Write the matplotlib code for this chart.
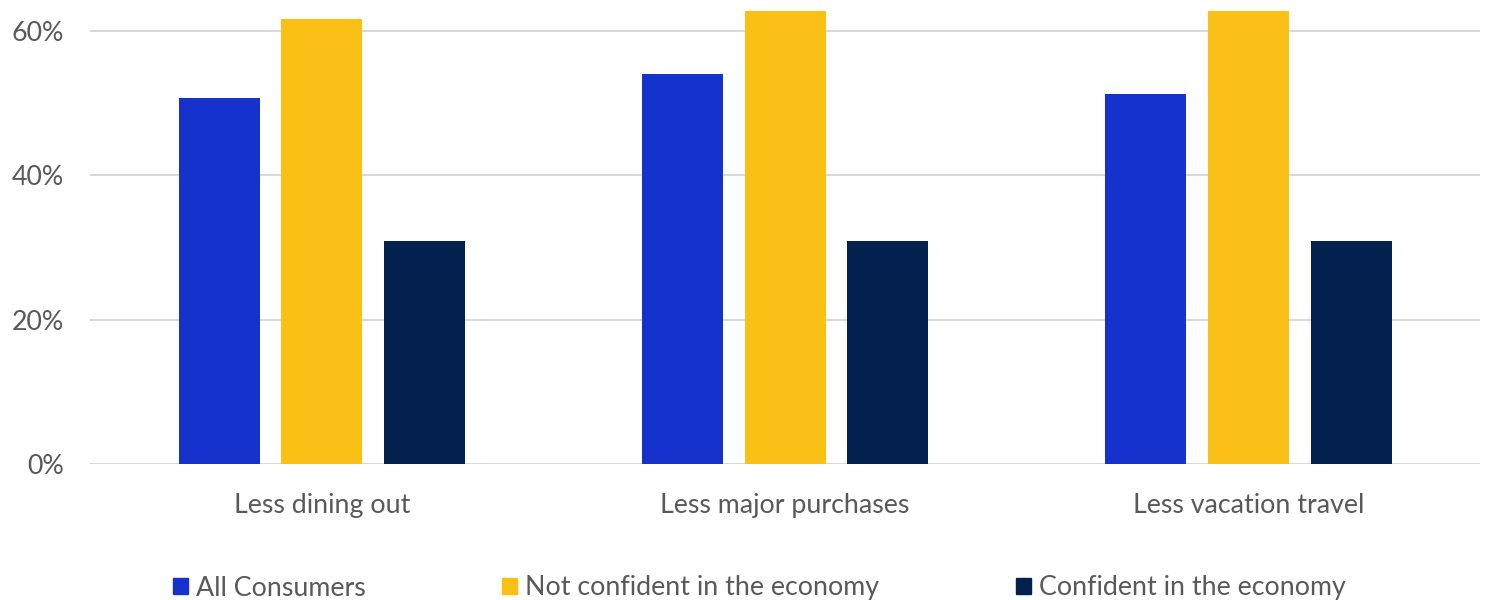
import numpy as np
import matplotlib.pyplot as plt
from matplotlib.patches import Patch

plt.rcParams['font.family'] = ['Lato', 'DejaVu Sans']

categories = ['Less dining out', 'Less major purchases', 'Less vacation travel']
series_names = ['All Consumers', 'Not confident in the economy', 'Confident in the economy']
all_consumers = [50.7, 54.0, 51.3]
not_confident = [61.7, 62.8, 62.8]
confident = [30.9, 30.9, 30.9]
yticks = [0, 20, 40, 60]
ytick_labels = ['0%', '20%', '40%', '60%']

colors = ['#1632cc', '#fbc015', '#03204f']
text_color = '#595959'

fig = plt.figure(figsize=(14.86, 6), dpi=100)
ax = fig.add_axes([0.0606, 0.2267, 0.9354, 0.7698])

x = np.arange(len(categories))
pitch = 0.2216
width = 0.175
for i, vals in enumerate([all_consumers, not_confident, confident]):
    ax.bar(x + (i - 1) * pitch, vals, width, color=colors[i], zorder=3)

ax.set_xlim(-0.5, 2.5)
ax.set_ylim(0, 64)
ax.set_yticks(yticks)
ax.set_yticklabels(ytick_labels)
ax.grid(axis='y', color='#d9d9d9', linewidth=1.5, zorder=0)
for s in ax.spines.values():
    s.set_visible(False)
ax.set_xticks(x)
ax.set_xticklabels(categories)
ax.tick_params(axis='both', length=0, labelsize=19.3, labelcolor=text_color)
ax.tick_params(axis='x', pad=21)
ax.tick_params(axis='y', pad=19)

handles = [Patch(color=c) for c in colors]
fig.legend(handles, series_names, loc='center', bbox_to_anchor=(0.511, 0.02),
           ncol=3, frameon=False, fontsize=19.3, labelcolor=text_color,
           handlelength=0.56, handleheight=0.56, handletextpad=0.3,
           columnspacing=5.1)

fig.savefig('out.png', dpi=100)
